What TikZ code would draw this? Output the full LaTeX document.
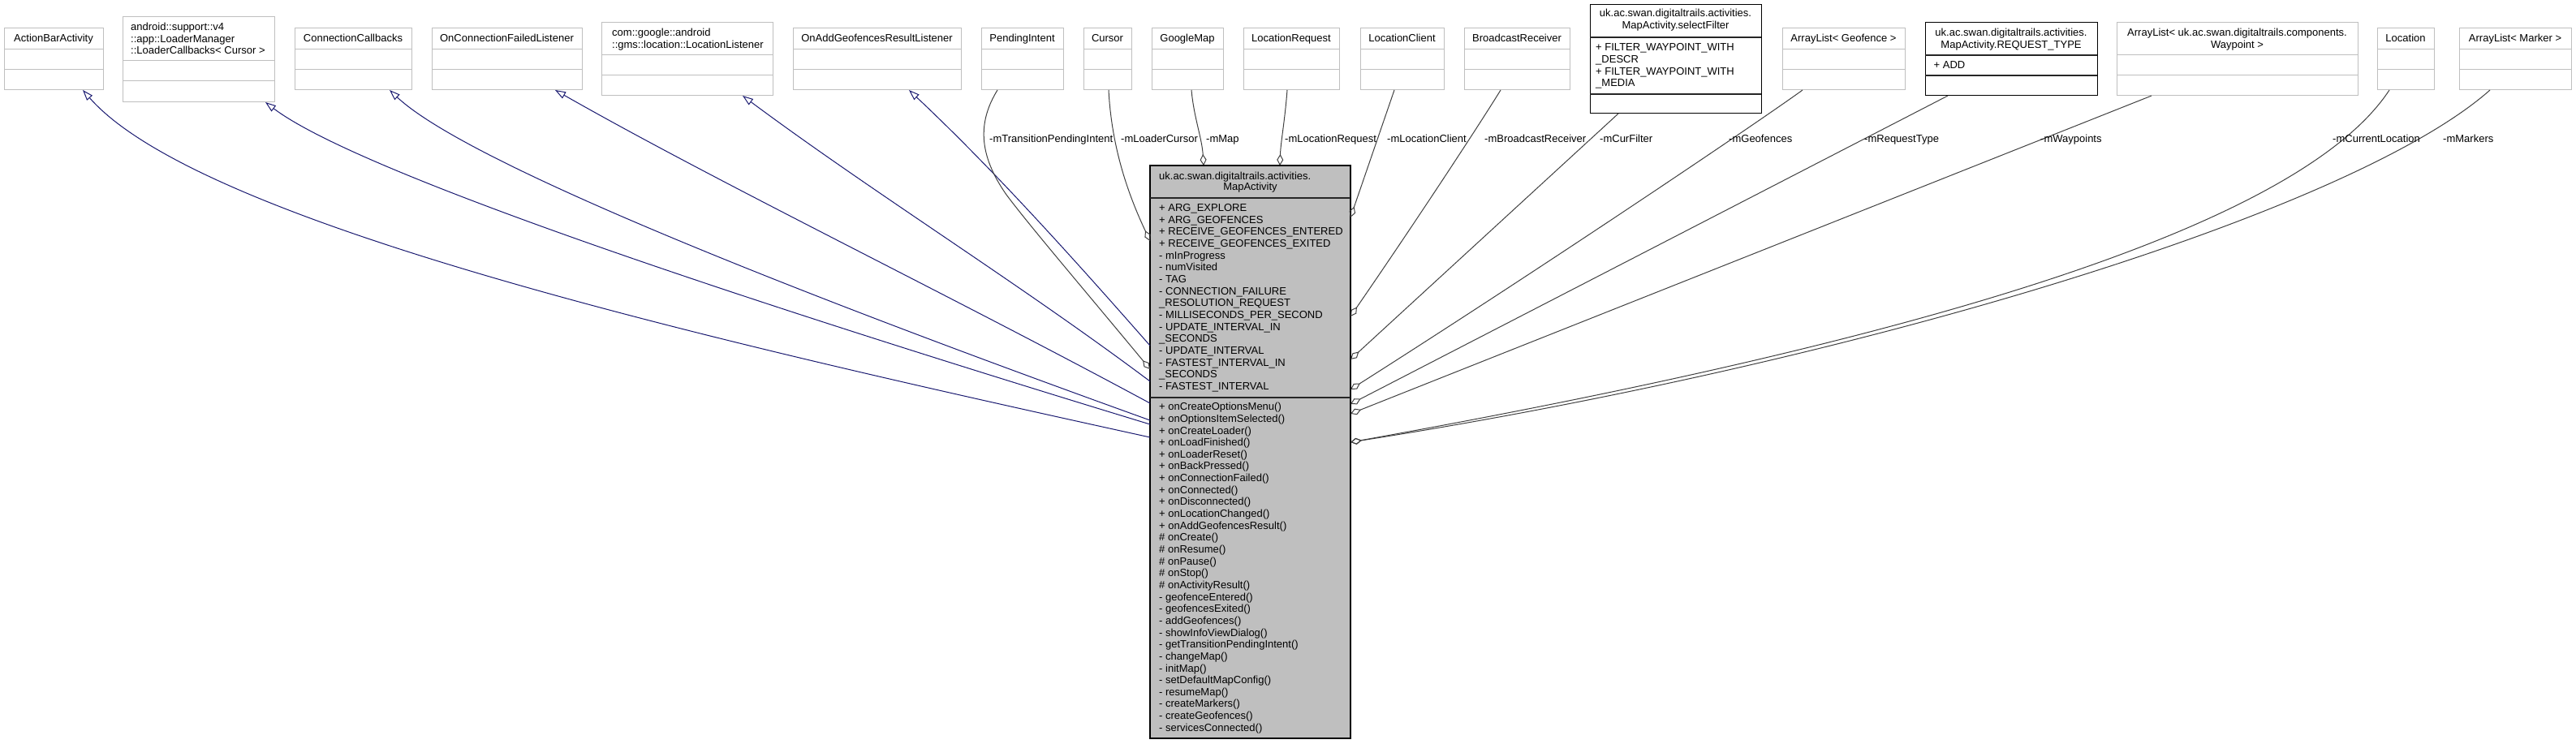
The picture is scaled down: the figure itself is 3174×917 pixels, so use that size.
\documentclass[tikz,border=0pt]{standalone}
\usepackage{fontspec}
\setmainfont{Liberation Sans}
\usetikzlibrary{arrows.meta,calc}
\definecolor{gseven}{HTML}{BFBFBF}
\definecolor{gtwo}{HTML}{404040}
\definecolor{mblue}{HTML}{191970}
\newcommand\bdivs[3]{\draw[#3] ($(#1.north west)+(0,#2)$) -- ($(#1.north east)+(0,#2)$);}
\begin{document}
\begin{tikzpicture}[x=1pt,y=-1pt,
  font=\fontsize{13}{14.67}\selectfont,
  extbox/.style={draw=gseven, line width=1pt, fill=white, inner sep=0pt, outer sep=0pt, anchor=north west},
  docbox/.style={draw=black, line width=1pt, fill=white, inner sep=0pt, outer sep=0pt, anchor=north west},
  mainbox/.style={draw=black, line width=1.2pt, fill=gseven, inner sep=0pt, outer sep=0pt, anchor=north west},
  extdiv/.style={draw=gseven, line width=1pt},
  docdiv/.style={draw=black!85, line width=1.2pt},
  txt/.style={inner sep=0pt, anchor=base},
  ltxt/.style={inner sep=0pt, anchor=base west},
  lbl/.style={inner sep=0pt, anchor=base west},
  inh/.style={draw=mblue, line width=1pt, -{Triangle[open,length=13pt,width=9pt]}},
  use/.style={draw=gtwo, line width=1pt, {Diamond[open,length=14pt,width=8pt]}-},
]
\useasboundingbox (0,0) rectangle (3174,917);

% ---------- base / member classes ----------
\node[extbox, minimum width=122pt, minimum height=76pt] (abar) at (5,35) {};
\bdivs{abar}{26}{extdiv}\bdivs{abar}{51}{extdiv}
\node[txt] (abart) at ($(abar.north)+(0,17)$) {ActionBarActivity};

\node[extbox, minimum width=187pt, minimum height=105pt] (lmgr) at (151,21) {};
\bdivs{lmgr}{54}{extdiv}\bdivs{lmgr}{79}{extdiv}
\node[ltxt] (lmgra) at (161,37.6) {android::support::v4};
\node[ltxt] (lmgrb) at (161,52.3) {::app::LoaderManager};
\node[ltxt] (lmgrc) at (161,67) {::LoaderCallbacks< Cursor >};

\node[extbox, minimum width=144pt, minimum height=76pt] (ccb) at (363,35) {};
\bdivs{ccb}{26}{extdiv}\bdivs{ccb}{51}{extdiv}
\node[txt] (ccbt) at ($(ccb.north)+(0,17)$) {ConnectionCallbacks};

\node[extbox, minimum width=185pt, minimum height=76pt] (ocfl) at (532,35) {};
\bdivs{ocfl}{26}{extdiv}\bdivs{ocfl}{51}{extdiv}
\node[txt] (ocflt) at ($(ocfl.north)+(0,17)$) {OnConnectionFailedListener};

\node[extbox, minimum width=211pt, minimum height=90pt] (loclis) at (741,28) {};
\bdivs{loclis}{40}{extdiv}\bdivs{loclis}{65}{extdiv}
\node[ltxt] (loclisa) at (754,44.5) {com::google::android};
\node[ltxt] (loclisb) at (754,59.2) {::gms::location::LocationListener};

\node[extbox, minimum width=207pt, minimum height=76pt] (oagr) at (977,35) {};
\bdivs{oagr}{26}{extdiv}\bdivs{oagr}{51}{extdiv}
\node[txt] (oagrt) at ($(oagr.north)+(0,17)$) {OnAddGeofencesResultListener};

\node[extbox, minimum width=101pt, minimum height=76pt] (pint) at (1209,35) {};
\bdivs{pint}{26}{extdiv}\bdivs{pint}{51}{extdiv}
\node[txt] (pintt) at ($(pint.north)+(0,17)$) {PendingIntent};

\node[extbox, minimum width=59pt, minimum height=76pt] (cursor) at (1335,35) {};
\bdivs{cursor}{26}{extdiv}\bdivs{cursor}{51}{extdiv}
\node[txt] (cursort) at ($(cursor.north)+(0,17)$) {Cursor};

\node[extbox, minimum width=88pt, minimum height=76pt] (gmap) at (1419,35) {};
\bdivs{gmap}{26}{extdiv}\bdivs{gmap}{51}{extdiv}
\node[txt] (gmapt) at ($(gmap.north)+(0,17)$) {GoogleMap};

\node[extbox, minimum width=118pt, minimum height=76pt] (lreq) at (1532,35) {};
\bdivs{lreq}{26}{extdiv}\bdivs{lreq}{51}{extdiv}
\node[txt] (lreqt) at ($(lreq.north)+(0,17)$) {LocationRequest};

\node[extbox, minimum width=103pt, minimum height=76pt] (lcli) at (1676,35) {};
\bdivs{lcli}{26}{extdiv}\bdivs{lcli}{51}{extdiv}
\node[txt] (lclit) at ($(lcli.north)+(0,17)$) {LocationClient};

\node[extbox, minimum width=130pt, minimum height=76pt] (brec) at (1804,35) {};
\bdivs{brec}{26}{extdiv}\bdivs{brec}{51}{extdiv}
\node[txt] (brect) at ($(brec.north)+(0,17)$) {BroadcastReceiver};

\node[docbox, minimum width=211pt, minimum height=134pt] (sfil) at (1959,6) {};
\bdivs{sfil}{40}{docdiv}\bdivs{sfil}{110}{docdiv}
\node[txt] (sfilta) at ($(sfil.north)+(0,15)$) {uk.ac.swan.digitaltrails.activities.};
\node[txt] (sfiltb) at ($(sfil.north)+(0,29.7)$) {MapActivity.selectFilter};
\node[ltxt] (sfila) at (1966,63) {+ FILTER\_WAYPOINT\_WITH};
\node[ltxt] (sfilb) at (1966,77.6) {\_DESCR};
\node[ltxt] (sfilc) at (1966,92.3) {+ FILTER\_WAYPOINT\_WITH};
\node[ltxt] (sfild) at (1966,107) {\_MEDIA};

\node[extbox, minimum width=151pt, minimum height=76pt] (geof) at (2196,35) {};
\bdivs{geof}{26}{extdiv}\bdivs{geof}{51}{extdiv}
\node[txt] (geoft) at ($(geof.north)+(0,17)$) {ArrayList< Geofence >};

\node[docbox, minimum width=212pt, minimum height=90pt] (rtype) at (2372,28) {};
\bdivs{rtype}{40}{docdiv}\bdivs{rtype}{65}{docdiv}
\node[txt] (rtypeta) at ($(rtype.north)+(0,16.5)$) {uk.ac.swan.digitaltrails.activities.};
\node[txt] (rtypetb) at ($(rtype.north)+(0,31.2)$) {MapActivity.REQUEST\_TYPE};
\node[ltxt] (rtypea) at (2382.5,84.6) {+ ADD};

\node[extbox, minimum width=297pt, minimum height=90pt] (wayp) at (2608,28) {};
\bdivs{wayp}{40}{extdiv}\bdivs{wayp}{65}{extdiv}
\node[txt] (waypta) at ($(wayp.north)+(0,16.5)$) {ArrayList< uk.ac.swan.digitaltrails.components.};
\node[txt] (wayptb) at ($(wayp.north)+(0,31.2)$) {Waypoint >};

\node[extbox, minimum width=70pt, minimum height=76pt] (loc) at (2929,35) {};
\bdivs{loc}{26}{extdiv}\bdivs{loc}{51}{extdiv}
\node[txt] (loct) at ($(loc.north)+(0,17)$) {Location};

\node[extbox, minimum width=138pt, minimum height=76pt] (mark) at (3030,35) {};
\bdivs{mark}{26}{extdiv}\bdivs{mark}{51}{extdiv}
\node[txt] (markt) at ($(mark.north)+(0,17)$) {ArrayList< Marker >};

% ---------- main class ----------
\node[mainbox, minimum width=247pt, minimum height=706pt] (main) at (1417,204) {};
\bdivs{main}{40}{docdiv}\bdivs{main}{286}{docdiv}
\node[ltxt] (mta) at (1428,221.5) {uk.ac.swan.digitaltrails.activities.};
\node[txt] (mtb) at (1540.5,235) {MapActivity};
\foreach \t [count=\i from 0] in {
+ ARG\_EXPLORE,
+ ARG\_GEOFENCES,
+ RECEIVE\_GEOFENCES\_ENTERED,
+ RECEIVE\_GEOFENCES\_EXITED,
- mInProgress,
- numVisited,
- TAG,
- CONNECTION\_FAILURE,
\_RESOLUTION\_REQUEST,
- MILLISECONDS\_PER\_SECOND,
- UPDATE\_INTERVAL\_IN,
\_SECONDS,
- UPDATE\_INTERVAL,
- FASTEST\_INTERVAL\_IN,
\_SECONDS,
- FASTEST\_INTERVAL}
  \node[ltxt] (ma\i) at (1428,260.6+14.67*\i) {\t};
\foreach \t [count=\i from 0] in {
+ onCreateOptionsMenu(),
+ onOptionsItemSelected(),
+ onCreateLoader(),
+ onLoadFinished(),
+ onLoaderReset(),
+ onBackPressed(),
+ onConnectionFailed(),
+ onConnected(),
+ onDisconnected(),
+ onLocationChanged(),
+ onAddGeofencesResult(),
\# onCreate(),
\# onResume(),
\# onPause(),
\# onStop(),
\# onActivityResult(),
- geofenceEntered(),
- geofencesExited(),
- addGeofences(),
- showInfoViewDialog(),
- getTransitionPendingIntent(),
- changeMap(),
- initMap(),
- setDefaultMapConfig(),
- resumeMap(),
- createMarkers(),
- createGeofences(),
- servicesConnected()}
  \node[ltxt] (mm\i) at (1428,505.7+14.65*\i) {\t};

% ---------- inheritance ----------
\draw[inh] ($(main.north west)+(0,335)$) .. controls (917,429) and (250,280) .. ($(abar.south west)+(97,0)$);
\draw[inh] ($(main.north west)+(0,319)$) .. controls (967,386) and (447,217) .. ($(lmgr.south west)+(176,0)$);
\draw[inh] ($(main.north west)+(0,314)$) .. controls (1017,374) and (580,205) .. ($(ccb.south west)+(117,0)$);
\draw[inh] ($(main.north west)+(0,293)$) .. controls (1167,362) and (884,225) .. ($(ocfl.south west)+(152,0)$);
\draw[inh] ($(main.north west)+(0,266)$) .. controls (1257,350) and (1075,237) .. ($(loclis.south west)+(174,0)$);
\draw[inh] ($(main.north west)+(0,222)$) .. controls (1317,312) and (1220,205) .. ($(oagr.south west)+(143,0)$);

% ---------- usage ----------
\draw[use] ($(main.north west)+(0,251)$) .. controls (1330,350) and (1270,280) .. (1240,240) .. controls (1205,190) and (1205,150) .. ($(pint.south west)+(20,0)$);
\draw[use] ($(main.north west)+(0,93)$) .. controls (1395,250) and (1370,190) .. ($(cursor.south west)+(31,0)$);
\draw[use] ($(main.north west)+(66,0)$) .. controls (1481,170) and (1471,145) .. ($(gmap.south west)+(49,0)$);
\draw[use] ($(main.north west)+(160,0)$) .. controls (1578,175) and (1583,150) .. ($(lreq.south west)+(54,0)$);
\draw[use] ($(main.north east)+(0,64)$) -- ($(lcli.south west)+(42,0)$);
\draw[use] ($(main.north east)+(0,186)$) .. controls (1750,265) and (1825,150) .. ($(brec.south west)+(45,0)$);
\draw[use] ($(main.north east)+(0,239)$) -- ($(sfil.south west)+(35,0)$);
\draw[use] ($(main.north east)+(0,276)$) .. controls (1900,330) and (2160,155) .. ($(geof.south west)+(25,0)$);
\draw[use] ($(main.north east)+(0,294)$) -- ($(rtype.south west)+(28,0)$);
\draw[use] ($(main.north east)+(0,306)$) -- ($(wayp.south west)+(43,0)$);
\draw[use] ($(main.north east)+(0,341)$) .. controls (2250,440) and (2820,300) .. ($(loc.south west)+(15,0)$);
\draw[use] ($(main.north east)+(0,341)$) .. controls (2300,445) and (2900,260) .. ($(mark.south west)+(38,0)$);

% ---------- labels ----------
\node[lbl] (lba) at (1219,176) {-mTransitionPendingIntent};
\node[lbl] (lbb) at (1381,176) {-mLoaderCursor};
\node[lbl] (lbc) at (1486,176) {-mMap};
\node[lbl] (lbd) at (1583,176) {-mLocationRequest};
\node[lbl] (lbe) at (1709,176) {-mLocationClient};
\node[lbl] (lbf) at (1829,176) {-mBroadcastReceiver};
\node[lbl] (lbg) at (1971,176) {-mCurFilter};
\node[lbl] (lbh) at (2130,176) {-mGeofences};
\node[lbl] (lbi) at (2297,176) {-mRequestType};
\node[lbl] (lbj) at (2514,176) {-mWaypoints};
\node[lbl] (lbk) at (2874,176) {-mCurrentLocation};
\node[lbl] (lbl) at (3010,176) {-mMarkers};
\end{tikzpicture}
\end{document}
